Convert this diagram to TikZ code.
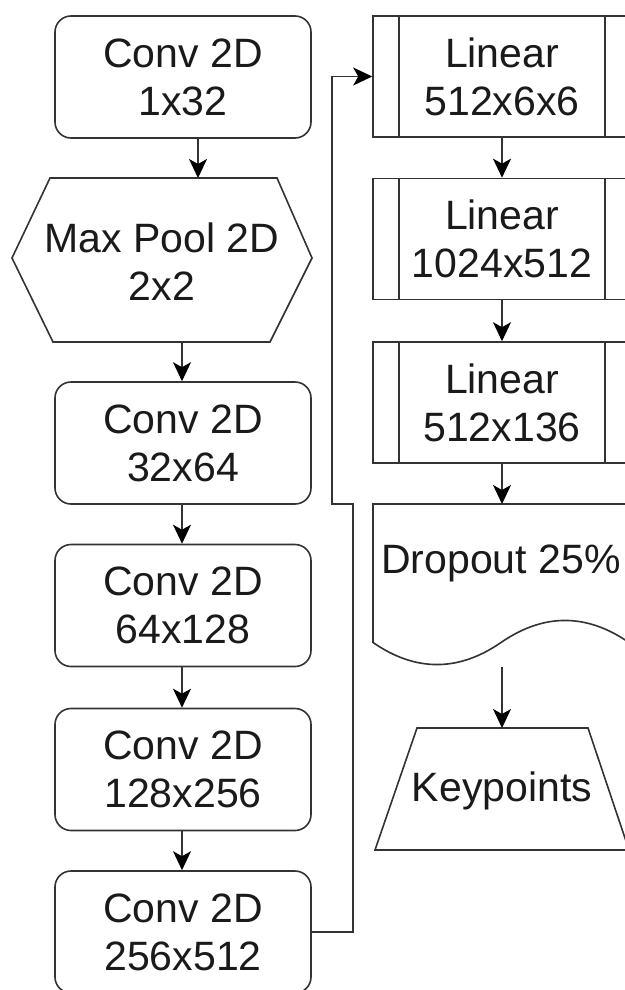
\documentclass[tikz,border=0pt]{standalone}
\usepackage{fontspec}
\setmainfont{Liberation Sans}
\usetikzlibrary{arrows.meta}
\definecolor{ln}{HTML}{333333}
\definecolor{tx}{HTML}{1A1A1A}
\tikzset{
  lbl/.style={text=tx, align=center, inner sep=0pt, font=\fontsize{41}{48}\selectfont},
  convbox/.style={lbl, draw=ln, rounded corners=16pt, minimum width=256pt, minimum height=122pt},
  linbox/.style={lbl, draw=ln, minimum width=258pt, minimum height=121pt},
  arr/.style={draw=ln, -{Stealth[length=19pt,width=18pt,inset=5pt,color=black]}},
  edge/.style={draw=ln}
}
\begin{document}
\begin{tikzpicture}[x=1pt,y=-1pt,line width=1.6pt]
\useasboundingbox[fill=white] (0,0) rectangle (624,990);

% left column
\node[convbox] (c1) at (183,77) {Conv 2D\\1x32};
\draw[edge] (12,258) -- (50,178) -- (277,178) -- (312,258) -- (270,342) -- (53,342) -- cycle;
\node[lbl] (mp) at (162,262) {Max Pool 2D\\2x2};
\coordinate (mptop) at (198,178);
\coordinate (mpbot) at (182,342);
\node[convbox] (c2) at (183,443) {Conv 2D\\32x64};
\node[convbox] (c3) at (183,605.5) {Conv 2D\\64x128};
\node[convbox] (c4) at (183,769.5) {Conv 2D\\128x256};
\node[convbox] (c5) at (183,932) {Conv 2D\\256x512};

\draw[arr] (c1.south -| mptop) -- (mptop);
\draw[arr] (mpbot) -- (mpbot |- c2.north);
\draw[arr] (c2.south -| mpbot) -- (c3.north -| mpbot);
\draw[arr] (c3.south -| mpbot) -- (c4.north -| mpbot);
\draw[arr] (c4.south -| mpbot) -- (c5.north -| mpbot);

% right column
\node[linbox] (l1) at (502,76.5) {Linear\\512x6x6};
\node[linbox] (l2) at (502,239) {Linear\\1024x512};
\node[linbox] (l3) at (502,402.5) {Linear\\512x136};
\foreach \n in {l1,l2,l3}{
  \draw[edge] ([xshift=27pt]\n.north west) -- ([xshift=27pt]\n.south west);
  \draw[edge] ([xshift=-27pt]\n.north east) -- ([xshift=-27pt]\n.south east);
}
\draw[arr] (l1.south) -- (l2.north);
\draw[arr] (l2.south) -- (l3.north);

% dropout (document shape)
\coordinate (drtop) at (502,504);
\draw[edge] (373,504) -- (629,504) -- (629,642.5)
  .. controls (586.33,613.1) and (543.67,613.1) .. (501,642.5)
  .. controls (458.33,671.9) and (415.67,671.9) .. (373,642.5) -- cycle;
\node[lbl] (dr) at (501,563) {Dropout 25\%};
\coordinate (drbot) at (502,667);
\draw[arr] (l3.south) -- (drtop);

% keypoints
\draw[edge] (417,728) -- (588,728) -- (629,850) -- (375,850) -- cycle;
\node[lbl] (kp) at (502,791) {Keypoints};
\coordinate (kptop) at (502,728);
\draw[arr] (drbot) -- (kptop);

% skip connector
\coordinate (j1) at (353,504);
\coordinate (j2) at (332,504);
\draw[arr] (c5.east) -| (j1) -- (j2) |- (l1.west);
\end{tikzpicture}
\end{document}
